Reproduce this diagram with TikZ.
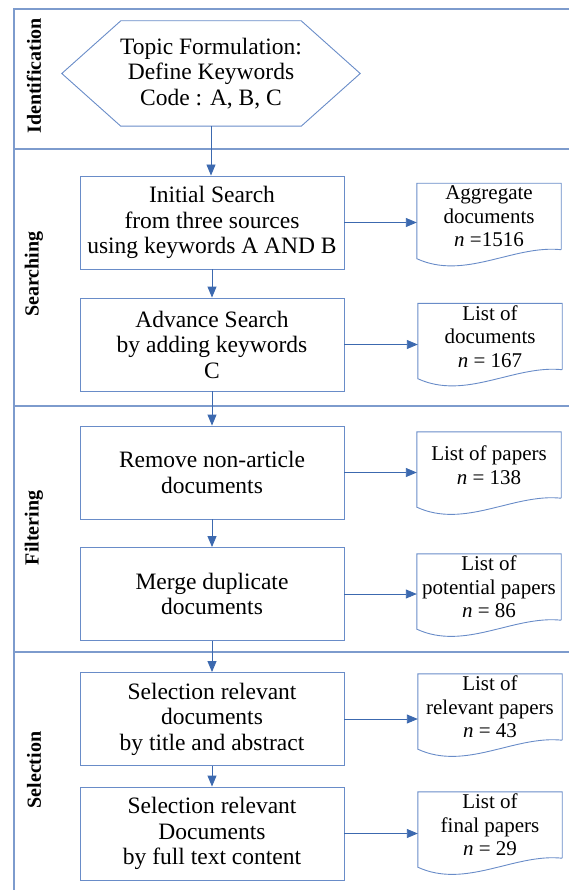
\documentclass[tikz,border=0pt]{standalone}
\usepackage{fontspec}
\setmainfont{Liberation Serif}
\usetikzlibrary{arrows.meta,calc}
\definecolor{lanecol}{RGB}{125,155,205}
\definecolor{boxcol}{RGB}{105,140,200}
\definecolor{arrowcol}{RGB}{60,105,175}

\begin{document}
\begin{tikzpicture}[x=1pt,y=-1pt,
    stage/.style={draw=boxcol, line width=0.9pt, minimum width=264pt, minimum height=93pt, align=center, font=\fontsize{23.5}{25.5}\selectfont},
    docbox/.style={minimum width=144pt, minimum height=66pt, inner sep=0pt, align=center, font=\fontsize{21}{23.5}\selectfont},
    lane/.style={rotate=90, font=\fontsize{20}{24}\selectfont\bfseries},
    flow/.style={arrowcol, line width=0.9pt, -{Triangle[length=11pt,width=9pt]}}]
    \useasboundingbox (0,0) rectangle (569,890);

    % Lanes
    \draw[lanecol, line width=1.1pt] (14,890) -- (14,9) -- (569,9);
    \foreach \y in {149,406,652} \draw[lanecol, line width=1.1pt] (14,\y) -- (569,\y);
    \node[lane] (idf) at (34,76) {Identification};
    \node[lane] (srch) at (34,274) {Searching};
    \node[lane] (filt) at (34,528) {Filtering};
    \node[lane] (sel) at (34,770) {Selection};

    % Hexagon
    \node[minimum width=298pt, minimum height=105pt, align=center, font=\fontsize{23.5}{25.5}\selectfont] (topic) at (211,73.5) {Topic Formulation:\\Define Keywords\\Code : A, B, C};
    \draw[boxcol, line width=0.9pt] (topic.west) -- ($(topic.north west)+(59,0)$) -- ($(topic.north east)+(-59,0)$) -- (topic.east) -- ($(topic.south east)+(-59,0)$) -- ($(topic.south west)+(59,0)$) -- cycle;

    % Steps
    \node[stage] (b1) at (212,222.5) {Initial Search\\from three sources\\using keywords A AND B};
    \node[stage] (b2) at (212,344.5) {Advance Search\\by adding keywords\\C};
    \node[stage] (b3) at (212,472.5) {Remove non-article\\documents};
    \node[stage] (b4) at (212,594) {Merge duplicate\\documents};
    \node[stage] (b5) at (212,719) {Selection relevant\\documents\\by title and abstract};
    \node[stage] (b6) at (212,833.5) {Selection relevant\\Documents\\by full text content};

    % Outputs
    \node[docbox] (d1) at (489,216.5) {Aggregate\\documents\\\textit{n} =1516};
    \node[docbox] (d2) at (490,336.5) {List of\\documents\\\textit{n} = 167};
    \node[docbox] (d3) at (489,465) {List of papers\\\textit{n} = 138};
    \node[docbox] (d4) at (489,587) {List of\\potential papers\\\textit{n} = 86};
    \node[docbox] (d5) at (490,707) {List of\\relevant papers\\\textit{n} = 43};
    \node[docbox] (d6) at (490,825) {List of\\final papers\\\textit{n} = 29};
    \foreach \doc in {d1,d2,d3,d4,d5,d6}
        \draw[boxcol, line width=0.9pt] (\doc.south east) -- (\doc.north east) -- (\doc.north west) -- ($(\doc.south west)+(0,9)$) .. controls +(48,22) and +(-48,-5) .. (\doc.south east);

    % Arrows
    \draw[flow] (topic.south) -- (topic.south |- b1.north);
    \draw[flow] (b1) -- (b2);
    \draw[flow] (b2) -- (b3);
    \draw[flow] (b3) -- (b4);
    \draw[flow] (b4) -- (b5);
    \draw[flow] (b5) -- (b6);
    \foreach \i in {1,...,6} \draw[flow] (b\i.east) -- (b\i.east -| d\i.west);
\end{tikzpicture}
\end{document}
